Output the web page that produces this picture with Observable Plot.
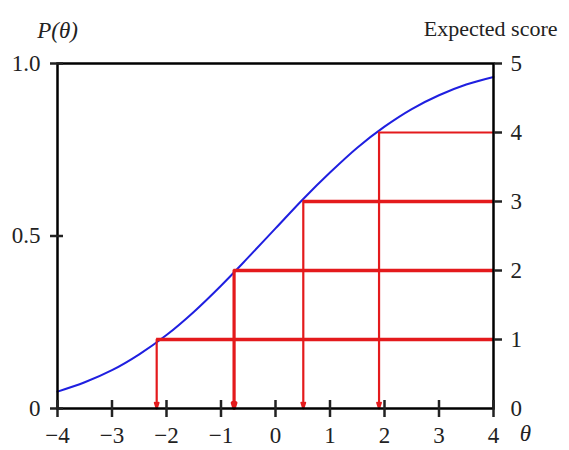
<!DOCTYPE html>
<html>
<head>
<meta charset="utf-8">
<script src="https://cdn.jsdelivr.net/npm/d3@7"></script>
<script src="https://cdn.jsdelivr.net/npm/@observablehq/plot@0.6"></script>
<style>
  html, body { margin: 0; padding: 0; background: #fff; }
  svg text { font-family: "Liberation Serif", "DejaVu Serif", serif; }
</style>
</head>
<body>
<div id="chart"></div>
<script>
// Item characteristic curve
const theta = [-4, -3.5, -3, -2.5, -2, -1.5, -1, -0.5, 0, 0.5, 1, 1.5, 2, 2.5, 3, 3.5, 4];
const prob  = [0.049, 0.076, 0.111, 0.157, 0.213, 0.280, 0.356, 0.438, 0.522, 0.606, 0.684, 0.756, 0.817, 0.868, 0.908, 0.939, 0.961];

// Expected-score thresholds and the θ where the curve reaches them
const scoreLevels = [1, 2, 3, 4];
const scoreTheta  = [-2.18, -0.76, 0.51, 1.9];
const maxScore = 5;

// Axis ticks
const xTicks = [-4, -3, -2, -1, 0, 1, 2, 3, 4];
const leftTicks = [0, 0.5, 1];
const leftTickLabels = ["0", "0.5", "1.0"];
const rightScores = [0, 1, 2, 3, 4, 5];

const curve = theta.map((t, i) => ({theta: t, p: prob[i]}));
const levels = scoreLevels.map((s, i) => ({score: s, theta: scoreTheta[i], p: s / maxScore}));
const leftLabel = new Map(leftTicks.map((t, i) => [t, leftTickLabels[i]]));
const rightPos = rightScores.map(s => s / maxScore);
const rightTickPos = rightScores.filter(s => s > 0).map(s => s / maxScore);

const font = "Liberation Serif";
const ink = "#222";
const red = "#e41a1c";

const chart = Plot.plot({
  width: 569,
  height: 450,
  marginLeft: 57,
  marginRight: 76,
  marginTop: 63,
  marginBottom: 42,
  x: {domain: [-4, 4], label: null},
  y: {domain: [0, 1], label: null},
  style: {fontFamily: font, fontSize: "22px", color: ink, background: "#fff", overflow: "visible"},
  marks: [
    Plot.line(curve, {x: "theta", y: "p", stroke: "#1f1fe0", strokeWidth: 2, curve: "catmull-rom"}),
    Plot.ruleY(levels, {y: "p", x1: "theta", x2: () => 4, stroke: red,
      strokeWidth: d => d.score === 4 ? 1.8 : 3.5}),
    Plot.arrow(levels, {x1: "theta", y1: "p", x2: "theta", y2: () => 0, stroke: red,
      strokeWidth: d => d.score === 2 ? 3.2 : 2.2, headLength: 9, headAngle: 35}),
    Plot.frame({stroke: "black", strokeWidth: 2.5}),
    // bottom axis
    Plot.axisX(xTicks, {label: null, tickSize: 9, tickPadding: 9, strokeWidth: 2.5, fontSize: 23, fontFamily: font,
      tickFormat: d => d3.format("")(d)}),
    Plot.axisX(xTicks, {label: null, tickSize: -8, strokeWidth: 2.5, text: null}),
    // left axis
    Plot.axisY(leftTicks, {anchor: "left", label: null, tickSize: 7, tickPadding: 10, strokeWidth: 2.5, fontSize: 23,
      fontFamily: font, tickFormat: d => leftLabel.get(d)}),
    Plot.axisY(leftTicks, {anchor: "left", label: null, tickSize: -6, strokeWidth: 2.5, text: null}),
    // right axis (expected score)
    Plot.axisY(rightTickPos, {anchor: "right", label: null, tickSize: 8, strokeWidth: 2.5, text: null}),
    Plot.axisY(rightPos, {anchor: "right", label: null, tickSize: 0, tickPadding: 17, fontSize: 23, fontFamily: font,
      tickFormat: d => String(Math.round(d * maxScore))}),
    // titles
    Plot.text(["P(θ)"], {frameAnchor: "top-left", textAnchor: "middle", lineAnchor: "bottom", dy: -26,
      fontSize: 23, fontStyle: "italic", fontFamily: font, fill: ink}),
    Plot.text(["Expected score"], {frameAnchor: "top-right", textAnchor: "end", lineAnchor: "bottom", dx: 64, dy: -28,
      fontSize: 22, fontFamily: font, fill: ink}),
    Plot.text(["θ"], {frameAnchor: "bottom-right", textAnchor: "middle", lineAnchor: "middle", dx: 32, dy: 25,
      fontSize: 23, fontStyle: "italic", fontFamily: font, fill: ink})
  ]
});

document.getElementById("chart").appendChild(chart);
</script>
</body>
</html>
